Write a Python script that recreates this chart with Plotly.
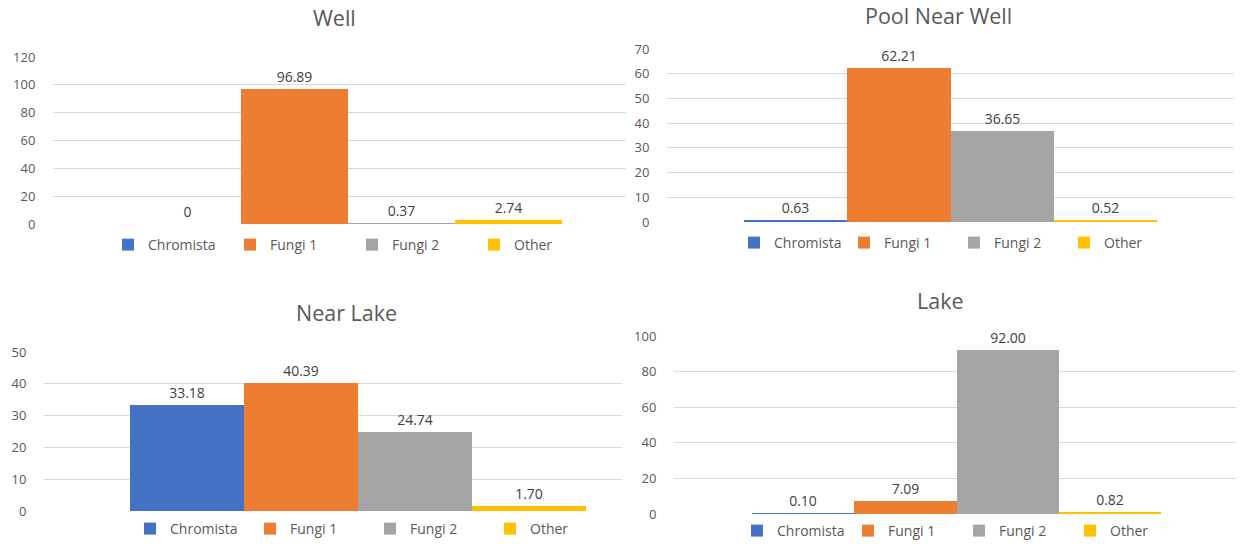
import plotly.graph_objects as go

# Series shared by every panel
categories = ["Chromista", "Fungi 1", "Fungi 2", "Other"]
colors = ["#4472C4", "#ED7D31", "#A5A5A5", "#FFC000"]

# Percentage share per site
well = [0, 96.89, 0.37, 2.74]
pool_near_well = [0.63, 62.21, 36.65, 0.52]
near_lake = [33.18, 40.39, 24.74, 1.70]
lake = [0.10, 7.09, 92.00, 0.82]

site_titles = ["Well", "Pool Near Well", "Near Lake", "Lake"]
site_values = [well, pool_near_well, near_lake, lake]
label_formats = ["%{y}", "%{y:.2f}", "%{y:.2f}", "%{y:.2f}"]
y_max = [120, 70, 50, 100]
y_step = [20, 10, 10, 20]

W, H = 1241, 544
FONT = "Open Sans, Lato, sans-serif"
TEXT = "#595959"

# Pixel geometry of each panel: plot box, bar cluster span, title and legend anchors
panels = [
    dict(px0=53, px1=626, py0=57, py1=224, b0=134, b1=562, tx=334, ty=18, lx=108, ly=245, ew=77),
    dict(px0=667, px1=1234, py0=49, py1=222, b0=744, b1=1157, tx=938, ty=15, lx=734, ly=243, ew=65),
    dict(px0=44, px1=622, py0=352, py1=511, b0=130, b1=586, tx=346, ty=312, lx=130, ly=529, ew=75),
    dict(px0=674, px1=1236, py0=336, py1=514, b0=752, b1=1161, tx=940, ty=300, lx=737, ly=531, ew=66),
]

fig = go.Figure()
annotations = []
layout_axes = {}

for i, (title, vals, fmt, p) in enumerate(zip(site_titles, site_values, label_formats, panels)):
    n = i + 1
    xa = "x" if n == 1 else f"x{n}"
    ya = "y" if n == 1 else f"y{n}"
    leg = "legend" if n == 1 else f"legend{n}"
    for cat, col, v in zip(categories, colors, vals):
        fig.add_trace(go.Bar(
            x=[""], y=[v], name=cat, marker=dict(color=col, line=dict(width=0)),
            xaxis=xa, yaxis=ya, legend=leg, offsetgroup=cat,
            texttemplate=fmt, textposition="outside", cliponaxis=False,
            textfont=dict(family=FONT, size=14, color="#404040"),
            hoverinfo="skip",
        ))

    # cluster occupies [-0.5, 0.5] in category units; extend to the plot box edges
    unit = p["b1"] - p["b0"]
    xr = [-0.5 - (p["b0"] - p["px0"]) / unit, 0.5 + (p["px1"] - p["b1"]) / unit]
    suffix = "" if n == 1 else str(n)
    layout_axes[f"xaxis{suffix}"] = dict(
        domain=[p["px0"] / W, p["px1"] / W], anchor=ya, type="category", range=xr,
        showticklabels=False, showgrid=False, zeroline=False, showline=False, fixedrange=True,
    )
    layout_axes[f"yaxis{suffix}"] = dict(
        domain=[1 - p["py1"] / H, 1 - p["py0"] / H], anchor=xa, range=[0, y_max[i]],
        dtick=y_step[i], tick0=0, showgrid=True, gridcolor="#D9D9D9", gridwidth=1,
        zeroline=False, showline=False,
        ticks="outside", ticklen=14, tickcolor="rgba(0,0,0,0)",
        tickfont=dict(family=FONT, size=13, color=TEXT), fixedrange=True,
    )
    layout_axes[leg] = dict(
        orientation="h", x=p["lx"] / W, y=1 - p["ly"] / H, xanchor="left", yanchor="middle",
        entrywidth=p["ew"], entrywidthmode="pixels", itemwidth=30, traceorder="normal",
        font=dict(family=FONT, size=14, color=TEXT), bgcolor="rgba(0,0,0,0)",
        itemclick=False, itemdoubleclick=False,
    )
    annotations.append(dict(
        text=title, x=p["tx"] / W, y=1 - p["ty"] / H, xref="paper", yref="paper",
        xanchor="center", yanchor="middle", showarrow=False,
        font=dict(family=FONT, size=21.5, color=TEXT),
    ))

fig.update_layout(
    width=W, height=H, margin=dict(l=0, r=0, t=0, b=0, autoexpand=False),
    paper_bgcolor="white", plot_bgcolor="white",
    barmode="group", bargap=0, bargroupgap=0,
    annotations=annotations, **layout_axes,
)

fig.write_html("out.html", config={"displayModeBar": False})
